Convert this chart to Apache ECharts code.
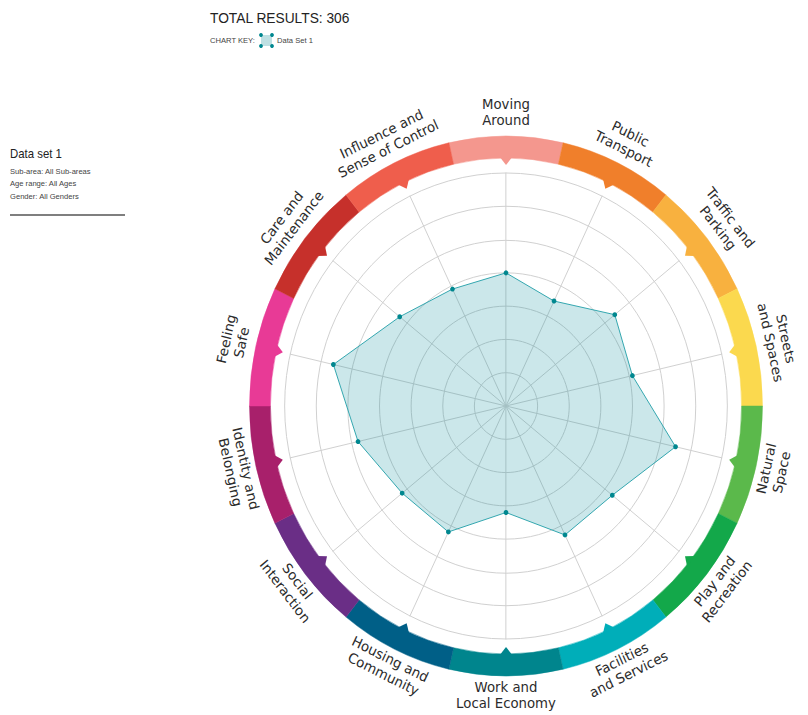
<!DOCTYPE html>
<html><head><meta charset="utf-8">
<script src="https://cdn.jsdelivr.net/npm/echarts@6/dist/echarts.min.js"></script>
<style>
html,body{margin:0;padding:0;background:#fff;overflow:hidden;width:808px;height:715px}
#wrap{width:808px;height:715px;overflow:hidden}
#chart{width:851px;height:715px;transform:scaleX(0.95);transform-origin:0 0}
</style>
</head><body><div id="wrap"><div id="chart"></div></div>
<script>
// Categories, clockwise from the top
const categories = ['Moving Around','Public Transport','Traffic and Parking','Streets and Spaces','Natural Space','Play and Recreation','Facilities and Services','Work and Local Economy','Housing and Community','Social Interaction','Identity and Belonging','Feeling Safe','Care and Maintenance','Influence and Sense of Control'];
const categoryLabels = ['Moving\nAround','Public\nTransport','Traffic and\nParking','Streets\nand Spaces','Natural\nSpace','Play and\nRecreation','Facilities\nand Services','Work and\nLocal Economy','Housing and\nCommunity','Social\nInteraction','Identity and\nBelonging','Feeling\nSafe','Care and\nMaintenance','Influence and\nSense of Control'];
const values = [4.0, 3.5, 4.4, 4.1, 5.5, 4.3, 4.3, 3.2, 4.2, 4.2, 4.8, 5.6, 4.3, 3.9];
const bandColors = ['#f4978e','#f07f2b','#f8b13f','#fbd94e','#5bb94b','#13a84a','#00aeb9','#00858d','#005f87','#6a2e86','#a8206b','#e83a96','#c6302b','#ef5e4c'];
const scaleMax = 7;
const titleText = 'TOTAL RESULTS: 306';
const keyLabel = 'CHART KEY:';
const seriesName = 'Data Set 1';
const panelTitle = 'Data set 1';
const panelLines = ['Sub-area: All Sub-areas','Age range: All Ages','Gender: All Genders'];

const S = 0.95;            // horizontal squash of the reference
const CX = 506 / S, CY = 406, R = 233;
const N = categories.length, step = 360 / N;
const order = categories.map((_, k) => (N - k) % N); // ECharts radar runs counter-clockwise

const g = [];
const pt = (r, deg) => [CX + r * Math.sin(deg * Math.PI / 180), CY - r * Math.cos(deg * Math.PI / 180)];
categories.forEach((c, i) => {
  const th = i * step;
  const a0 = (th - step / 2 - 90) * Math.PI / 180, a1 = (th + step / 2 - 90) * Math.PI / 180;
  g.push({type: 'sector', silent: true, shape: {cx: CX, cy: CY, r0: 248, r: 270, startAngle: a0, endAngle: a1, clockwise: true}, style: {fill: bandColors[i], stroke: bandColors[i], lineWidth: 0.5}});
  g.push({type: 'polygon', silent: true, shape: {points: [pt(249, th - 1.5), pt(241, th), pt(249, th + 1.5)]}, style: {fill: bandColors[i]}});
  const bottom = th > 90 && th < 270;
  const rot = bottom ? -(th - 180) * Math.PI / 180 : -(th > 180 ? th - 360 : th) * Math.PI / 180;
  const p = pt(bottom ? 289 : 294, th);
  g.push({type: 'text', silent: true, x: p[0], y: p[1], rotation: rot,
    style: {text: categoryLabels[i], fill: '#2b2b2b', fontSize: 14, fontFamily: 'DejaVu Sans', align: 'center', verticalAlign: 'middle', lineHeight: 16.5}});
});

// header
g.push({type: 'text', silent: true, x: 210 / S, y: 18, style: {text: titleText, fill: '#222', fontSize: 14.5, fontFamily: 'Liberation Sans', align: 'left', verticalAlign: 'middle'}});
g.push({type: 'text', silent: true, x: 210 / S, y: 40, style: {text: keyLabel, fill: '#444', fontSize: 8, fontFamily: 'Liberation Sans', align: 'left', verticalAlign: 'middle'}});
g.push({type: 'rect', silent: true, shape: {x: 261 / S, y: 35, width: 11 / S, height: 11}, style: {fill: '#bfe0e3'}});
[[261, 35], [272, 35], [261, 46], [272, 46]].forEach(d => g.push({type: 'circle', silent: true, shape: {cx: d[0] / S, cy: d[1], r: 2}, style: {fill: '#00878f'}}));
g.push({type: 'text', silent: true, x: 277 / S, y: 40, style: {text: seriesName, fill: '#444', fontSize: 8, fontFamily: 'Liberation Sans', align: 'left', verticalAlign: 'middle'}});

// left panel
g.push({type: 'text', silent: true, x: 10 / S, y: 153, style: {text: panelTitle, fill: '#222', fontSize: 12, fontFamily: 'Liberation Sans', align: 'left', verticalAlign: 'middle'}});
panelLines.forEach((t, k) => g.push({type: 'text', silent: true, x: 10 / S, y: 171 + k * 12.5, style: {text: t, fill: '#444', fontSize: 8, fontFamily: 'Liberation Sans', align: 'left', verticalAlign: 'middle'}}));
g.push({type: 'line', silent: true, shape: {x1: 10 / S, y1: 215, x2: 125 / S, y2: 215}, style: {stroke: '#555', lineWidth: 1.5}});

const chart = echarts.init(document.getElementById('chart'), null, {renderer: 'svg'});
chart.setOption({
  animation: false,
  backgroundColor: '#fff',
  radar: {
    center: [CX, CY], radius: R, startAngle: 90, splitNumber: scaleMax, shape: 'circle',
    indicator: order.map(i => ({name: categories[i], min: 0, max: scaleMax})),
    axisName: {show: false},
    axisLine: {lineStyle: {color: '#cfcfcf', width: 1}},
    splitLine: {lineStyle: {color: '#cfcfcf', width: 1}},
    splitArea: {show: false},
    axisTick: {show: false}, axisLabel: {show: false}
  },
  series: [{
    type: 'radar', name: seriesName,
    symbol: 'circle', symbolSize: 5,
    itemStyle: {color: '#00878f'},
    lineStyle: {color: '#35a9b1', width: 1},
    areaStyle: {color: 'rgba(0,139,150,0.29)'},
    data: [{name: seriesName, value: order.map(i => values[i])}]
  }],
  graphic: g
});
</script></body></html>
